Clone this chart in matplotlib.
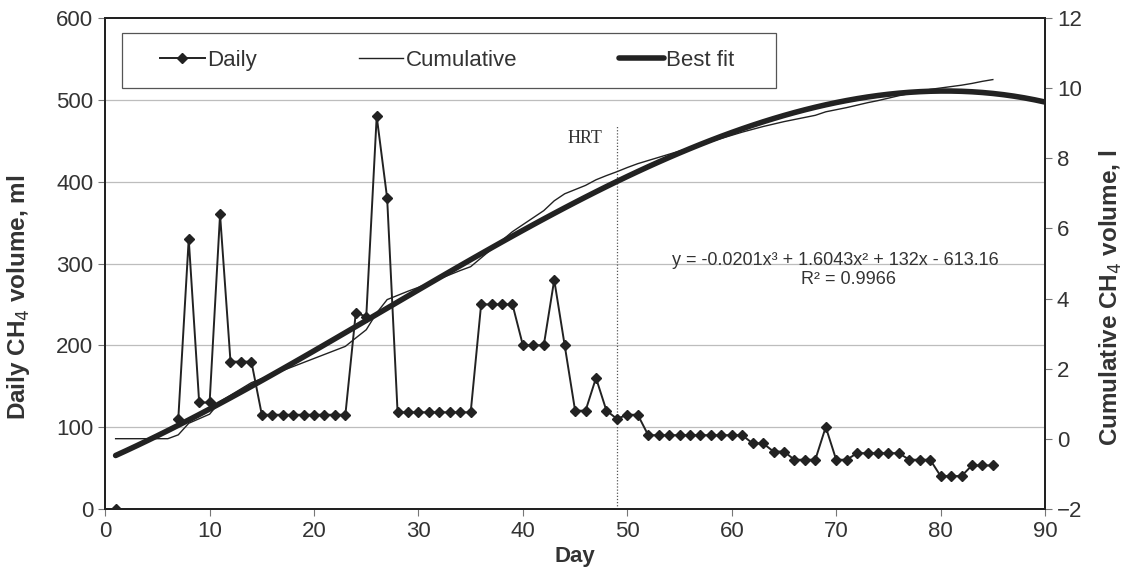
import numpy as np
import matplotlib
matplotlib.use("Agg")
import matplotlib.pyplot as plt
from matplotlib.patches import Rectangle

plt.rcParams['font.family'] = ['Liberation Sans', 'DejaVu Sans']

# === data ===
days_daily = list(range(1, 86))
daily_ml = [0, np.nan, np.nan, np.nan, np.nan, np.nan,
            110, 330, 130, 130, 360, 180, 180, 180,
            115, 115, 115, 115, 115, 115, 115, 115, 115,
            240, 235, 480, 380,
            118, 118, 118, 118, 118, 118, 118, 118,
            250, 250, 250, 250, 200, 200, 200, 280, 200,
            120, 120, 160, 120, 110, 115, 115,
            90, 90, 90, 90, 90, 90, 90, 90, 90, 90,
            80, 80, 70, 70, 60, 60, 60, 100, 60, 60,
            68, 68, 68, 68, 68, 60, 60, 60, 40, 40, 40, 53, 53, 53]

cumulative_l = [0.0, 0.0, 0.0, 0.0, 0.0, 0.0,
                0.11, 0.44, 0.57, 0.70, 1.06, 1.24, 1.42, 1.60,
                1.715, 1.83, 1.945, 2.06, 2.175, 2.29, 2.405, 2.52, 2.635,
                2.875, 3.11, 3.59, 3.97,
                4.09, 4.21, 4.32, 4.44, 4.56, 4.68, 4.80, 4.91,
                5.16, 5.41, 5.66, 5.91, 6.11, 6.31, 6.51, 6.79, 6.99,
                7.11, 7.23, 7.39, 7.51, 7.62, 7.74, 7.85,
                7.94, 8.03, 8.12, 8.21, 8.30, 8.39, 8.48, 8.57, 8.66, 8.75,
                8.83, 8.91, 8.98, 9.05, 9.11, 9.17, 9.23, 9.33, 9.39, 9.45,
                9.52, 9.59, 9.65, 9.72, 9.79, 9.85, 9.91, 9.97,
                10.01, 10.05, 10.09, 10.14, 10.20, 10.25]

# trendline shown on the chart (ml): y = -0.0201x^3 + 1.6043x^2 + 132x - 613.16
fit_coef = [-0.0201, 1.6043, 132, -613.16]
fit_days = list(range(1, 91))
hrt_day = 49

ink = '#222222'
txt = '#333333'

fig = plt.figure(figsize=(11.31, 5.71), dpi=100)
ax = fig.add_axes([0.093, 0.109, 0.831, 0.859])
ax2 = ax.twinx()

# gridlines
for v in [100, 200, 300, 400, 500]:
    ax.axhline(v, color='#bdbdbd', lw=0.9, zorder=0)

h1, = ax.plot(days_daily, daily_ml, color=ink, lw=1.4, marker='D', ms=5,
              label='Daily', zorder=3)
ax.vlines(hrt_day, 0, 468, colors='#555555', linestyles=(0, (1, 1.5)), lw=0.9)
ax.text(45.9, 453, 'HRT', family='Liberation Serif', fontsize=13,
        color=txt, ha='center', va='center')

h2, = ax2.plot(days_daily, cumulative_l, color=ink, lw=1.0, label='Cumulative')
fit_l = np.polyval(fit_coef, fit_days) / 1000.0
h3, = ax2.plot(fit_days, fit_l, color=ink, lw=4, label='Best fit',
               solid_capstyle='round')

ax.text(54.3, 304, 'y = -0.0201x³ + 1.6043x² + 132x - 613.16',
        fontsize=13, color=txt, va='center', ha='left')
ax.text(71.2, 280, 'R² = 0.9966', fontsize=13, color=txt,
        va='center', ha='center')

ax.set_xlim(0, 90)
ax.set_ylim(0, 600)
ax2.set_ylim(-2, 12)
ax.set_xticks(range(0, 91, 10))
ax.set_yticks(range(0, 601, 100))
ax2.set_yticks(range(-2, 13, 2))

for a in (ax, ax2):
    for s in a.spines.values():
        s.set_color(ink)
        s.set_linewidth(1.4)
    a.tick_params(labelsize=16, labelcolor=txt, color='#777777',
                  length=5, width=0.8)

ax.set_xlabel('Day', fontsize=16, fontweight='bold', color=txt)
ax.set_ylabel('Daily CH$_4$ volume, ml', fontsize=17.5, fontweight='bold', color=txt)
ax2.set_ylabel('Cumulative CH$_4$ volume, l', fontsize=17.5, fontweight='bold',
               color=txt)
ax.xaxis.set_label_coords(0.5, -0.075)
ax.yaxis.set_label_coords(-0.078, 0.43)
ax2.yaxis.set_label_coords(1.056, 0.43)

# legend box
ax2.add_patch(Rectangle((0.018, 0.857), 0.696, 0.112, transform=ax2.transAxes,
                        fill=True, facecolor='white', edgecolor='#555555',
                        lw=0.9, zorder=4))
leg = ax2.legend(handles=[h1, h2, h3], loc='center left', ncol=3,
                 bbox_to_anchor=(0.049, 0.914), fontsize=16, frameon=False,
                 handlelength=2.0, handletextpad=0.1, columnspacing=4.6,
                 borderaxespad=0)
leg.set_zorder(5)
for t in leg.get_texts():
    t.set_color(txt)

fig.savefig('out.png', dpi=100)
